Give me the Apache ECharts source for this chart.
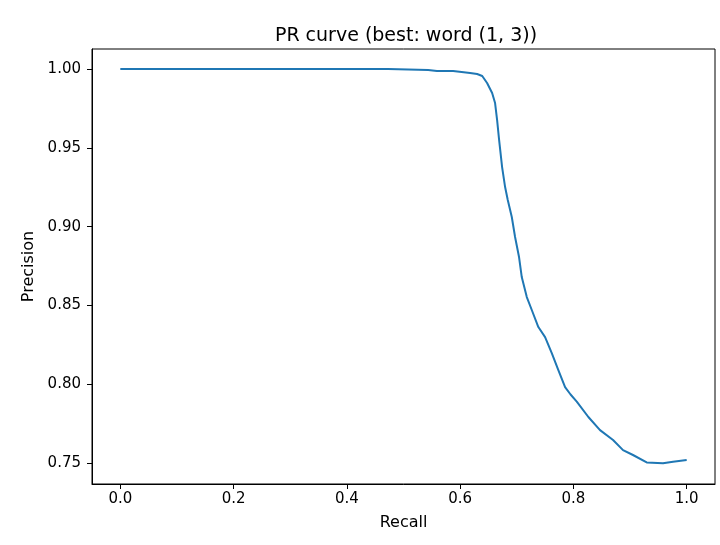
<!DOCTYPE html>
<html>
<head>
<meta charset="utf-8">
<script src="https://cdn.jsdelivr.net/npm/echarts@6/dist/echarts.min.js"></script>
<style>
  html, body { margin: 0; padding: 0; background: #fff; }
  #chart { width: 720px; height: 545px; }
</style>
</head>
<body>
<div id="chart"></div>
<script>
// values
var recall = [0.0, 0.2, 0.473, 0.475, 0.5435, 0.559, 0.5876, 0.591, 0.6176, 0.630, 0.639,
  0.6476, 0.6565, 0.6617, 0.6653, 0.6688, 0.6741, 0.6794, 0.6841, 0.6912, 0.697, 0.704,
  0.7088, 0.7177, 0.7265, 0.7381, 0.750, 0.7618, 0.7734, 0.7853, 0.795, 0.8059, 0.8264,
  0.847, 0.870, 0.8876, 0.9052, 0.9294, 0.9582, 0.9759, 1.0]
var precision = [1.0, 1.0, 1.0, 0.9994, 0.9994, 0.9987, 0.9987, 0.9977, 0.9975, 0.9968, 0.9956,
  0.9911, 0.9848, 0.9784, 0.9676, 0.9550, 0.9378, 0.9251, 0.9169, 0.9061, 0.8934, 0.8807,
  0.8680, 0.8553, 0.8471, 0.8363, 0.8299, 0.8198, 0.8090, 0.7982, 0.7935, 0.7890, 0.7792,
  0.7709, 0.7646, 0.7582, 0.7551, 0.7504, 0.7498, 0.7508, 0.7519]
var xTicks = [0, 0.2, 0.4, 0.6, 0.8, 1.0]
var yTicks = [0.75, 0.80, 0.85, 0.90, 0.95, 1.00]

var chart = echarts.init(document.getElementById('chart'))
var font = 'DejaVu Sans'
var points = recall.map(function (r, i) { return [r, precision[i]] })

chart.setOption({
  animation: false,
  textStyle: { fontFamily: font },
  title: {
    text: 'PR curve (best: word (1, 3))',
    left: 401,
    top: 22,
    textAlign: 'center',
    textStyle: { fontFamily: font, fontSize: 19, fontWeight: 'normal', color: '#000' }
  },
  grid: {
    left: 92,
    right: 5,
    top: 49,
    bottom: 61,
    show: true,
    borderColor: '#000',
    borderWidth: 1
  },
  xAxis: {
    type: 'value',
    min: -0.05,
    max: 1.05,
    name: 'Recall',
    nameLocation: 'middle',
    nameGap: 31,
    nameTextStyle: { fontFamily: font, fontSize: 16, color: '#000' },
    axisLine: { show: true, onZero: false, lineStyle: { color: '#000', width: 1 } },
    axisTick: { show: true, inside: false, length: 5, customValues: xTicks, lineStyle: { color: '#000' } },
    axisLabel: {
      customValues: xTicks,
      margin: 8,
      fontFamily: font,
      fontSize: 15,
      color: '#000',
      formatter: function (v) { return v.toFixed(1) }
    },
    splitLine: { show: false }
  },
  yAxis: {
    type: 'value',
    min: 0.7367,
    max: 1.0127,
    name: 'Precision',
    nameLocation: 'middle',
    nameGap: 52,
    nameTextStyle: { fontFamily: font, fontSize: 16, color: '#000' },
    axisLine: { show: true, onZero: false, lineStyle: { color: '#000', width: 1 } },
    axisTick: { show: true, inside: false, length: 5, customValues: yTicks, lineStyle: { color: '#000' } },
    axisLabel: {
      customValues: yTicks,
      margin: 11,
      fontFamily: font,
      fontSize: 15,
      color: '#000',
      formatter: function (v) { return v.toFixed(2) }
    },
    splitLine: { show: false }
  },
  series: [
    {
      type: 'line',
      data: points,
      showSymbol: false,
      lineStyle: { color: '#1f77b4', width: 2 },
      itemStyle: { color: '#1f77b4' }
    }
  ]
})
</script>
</body>
</html>
